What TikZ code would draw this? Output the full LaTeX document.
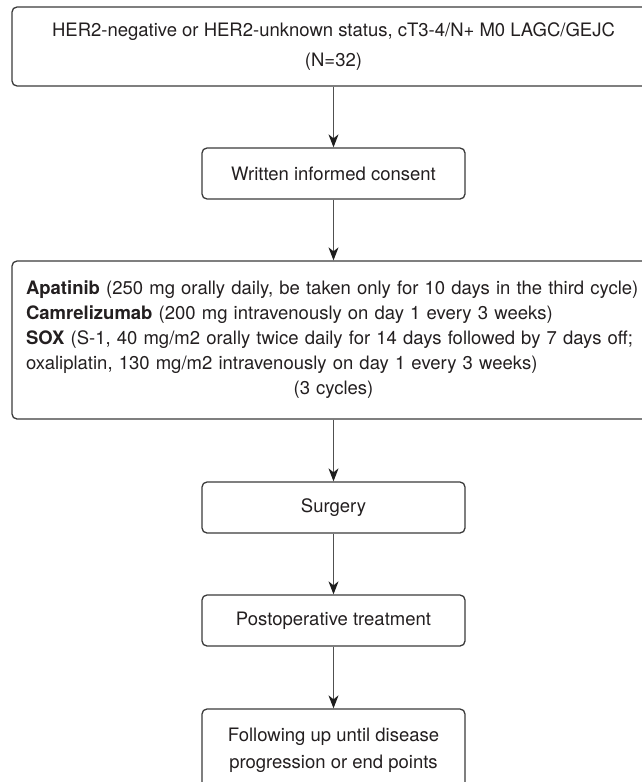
\documentclass[tikz,border=0pt]{standalone}
\usepackage{fontspec}
\setmainfont{TeX Gyre Heros}
\usetikzlibrary{arrows.meta}
\definecolor{linec}{HTML}{3A3A3A}
\definecolor{arrc}{HTML}{505050}
\definecolor{tipc}{HTML}{1E1E1E}
\definecolor{txtc}{HTML}{231F20}
\begin{document}
\begin{tikzpicture}[x=1pt,y=-1pt,
  font=\fontsize{18.5}{24}\selectfont,
  box/.style={draw=linec, line width=1.3pt, rounded corners=5pt, inner sep=0pt,
    text=txtc, align=center},
  smallbox/.style={box, minimum width=263pt, minimum height=51pt},
  arr/.style={draw=arrc, line width=1.3pt,
    -{Stealth[length=13pt,width=10pt,inset=4pt,color=tipc]}}]
\useasboundingbox (0,0) rectangle (641,782);
\node[box, minimum width=643pt, minimum height=79pt,
  font=\fontsize{18.5}{29.5}\selectfont] (b1) at (333.5,46.5)
  {HER2-negative or HER2-unknown status, cT3-4/N+ M0 LAGC/GEJC\\(N=32)};
\node[smallbox] (b2) at (333.5,173.5) {Written informed consent};
\node[box, minimum height=158pt, text width=615pt, inner xsep=14pt, align=left,
  font=\fontsize{18.5}{25}\selectfont] (b3) at (333.5,340)
  {\mbox{\textbf{Apatinib} (250 mg orally daily, be taken only for 10 days in the third cycle)}\\
   \mbox{\textbf{Camrelizumab} (200 mg intravenously on day 1 every 3 weeks)}\\
   \mbox{\textbf{SOX} (S-1, 40 mg/m2 orally twice daily for 14 days followed by 7 days off;}\\
   \mbox{oxaliplatin, 130 mg/m2 intravenously on day 1 every 3 weeks)}\\
   \hspace*{\fill}(3 cycles)\hspace*{\fill}};
\node[smallbox] (b4) at (333.5,507.5) {Surgery};
\node[smallbox] (b5) at (333.5,620.5) {Postoperative treatment};
\node[box, minimum width=263pt, minimum height=82pt,
  font=\fontsize{18.5}{27}\selectfont] (b6) at (333.5,750)
  {Following up until disease\\progression or end points};
\draw[arr] (b1) -- (b2);
\draw[arr] (b2) -- (b3);
\draw[arr] (b3) -- (b4);
\draw[arr] (b4) -- (b5);
\draw[arr] (b5) -- (b6);
\end{tikzpicture}
\end{document}
